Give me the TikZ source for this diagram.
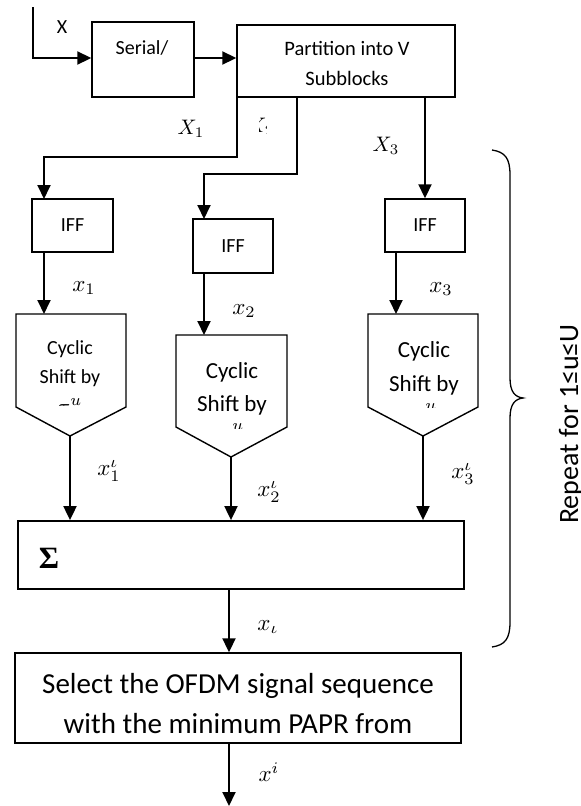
\documentclass[tikz,border=0pt]{standalone}
\usepackage{fontspec}
\setmainfont{Carlito}
\newfontfamily\sigfont{Liberation Serif}
\usetikzlibrary{arrows.meta}
\begin{document}
\begin{tikzpicture}[x=1pt,y=-1pt,
  box/.style={draw,line width=1.4pt,inner sep=0pt},
  conn/.style={line width=1.9pt},
  arr/.style={conn,-{Triangle[length=14pt,width=13pt]}},
  lbl/.style={inner sep=0pt,scale=2.3},
  ulbl/.style={inner sep=0pt,scale=2.1},
  txt/.style={inner sep=0pt,align=center},
]
\useasboundingbox (0,0) rectangle (581,806);
\clip (0,0) rectangle (581,806);

% input and serial box
\node[box,minimum width=102pt,minimum height=75pt] (ser) at (143,59.5) {};
\node[txt,font=\fontsize{20}{20}\selectfont] (sert) at (142,48) {Serial/};
\coordinate (in0) at (33,7);
\coordinate (in1) at (33,58);
\draw[arr] (in0) -- (in1) -- (ser.west |- in1);
\node[txt,font=\fontsize{20}{20}\selectfont] (xin) at (62,27) {X};

% partition box
\node[box,minimum width=218pt,minimum height=72pt] (part) at (346,61) {};
\node[txt,font=\fontsize{20.5}{30}\selectfont] (partt) at (347,63) {Partition into V\\Subblocks};
\draw[arr] (ser.east |- in1) -- (part.west |- in1);

% IFFT boxes
\node[box,minimum width=81pt,minimum height=53pt,font=\fontsize{20}{20}\selectfont] (iff1) at (72.5,225.5) {IFF};
\node[box,minimum width=80pt,minimum height=54pt,font=\fontsize{20}{20}\selectfont] (iff2) at (233,246) {IFF};
\node[box,minimum width=80pt,minimum height=53pt,font=\fontsize{20}{20}\selectfont] (iff3) at (425,225.5) {IFF};

% branches
\coordinate (pb1) at (237,97);
\coordinate (pb2) at (297,97);
\coordinate (pb3) at (425,97);
\coordinate (i1in) at (44,199);
\coordinate (i2in) at (204,219);
\draw[arr] (pb1) |- (44,157) -- (i1in);
\draw[arr] (pb2) |- (204,174) -- (i2in);
\draw[arr] (pb3) -- (iff3.north);

\node[ulbl] (X1) at (191,129) {$X_1$};
\begin{scope}
  \clip (259,115) rectangle (266,133);
  \node[ulbl,anchor=west] (X2) at (247,127) {$X_2$};
\end{scope}
\node[ulbl] (X3) at (386,146) {$X_3$};

% cyclic shift blocks
\draw[line width=1.4pt] (16,314) coordinate (c1top) -- (126,314) -- (126,407) -- (70,436) coordinate (c1tip) -- (16,407) -- cycle;
\draw[line width=1.4pt] (176,335) coordinate (c2top) -- (287,335) -- (287,427) -- (231,457) coordinate (c2tip) -- (176,427) -- cycle;
\draw[line width=1.4pt] (368,314) coordinate (c3top) -- (478,314) -- (478,407) -- (423,436) coordinate (c3tip) -- (368,407) -- cycle;

\node[txt,font=\fontsize{20}{29}\selectfont] (c1t) at (70,364) {Cyclic\\Shift by};
\node[txt,font=\fontsize{23}{33}\selectfont] (c2t) at (232,389) {Cyclic\\Shift by};
\node[txt,font=\fontsize{23}{34}\selectfont] (c3t) at (424,368) {Cyclic\\Shift by};
\begin{scope}
  \clip (40,396) rectangle (100,405);
  \node[lbl,anchor=base] (tau1) at (70,414) {$\tau^{u}$};
\end{scope}
\begin{scope}
  \clip (200,423) rectangle (260,428);
  \node[lbl,anchor=base] (tau2) at (232,439) {$\tau^{u}$};
\end{scope}
\begin{scope}
  \clip (395,403) rectangle (455,407);
  \node[lbl,anchor=base] (tau3) at (425,419) {$\tau^{u}$};
\end{scope}

\coordinate (o1) at (44,252);
\coordinate (o2) at (204,273);
\coordinate (o3) at (396,252);
\draw[arr] (o1) -- (o1 |- c1top);
\draw[arr] (o2) -- (o2 |- c2top);
\draw[arr] (o3) -- (o3 |- c3top);

\node[lbl] (x1) at (84,288) {$x_1$};
\node[lbl] (x2) at (244,311) {$x_2$};
\node[lbl] (x3) at (441,289) {$x_3$};

% sum box
\node[box,line width=1.8pt,minimum width=446pt,minimum height=68pt] (sum) at (241,555) {};
\node[inner sep=0pt,font=\fontsize{31}{31}\sigfont\bfseries] (sig) at (49,558) {Σ};
\draw[arr] (c1tip) -- (c1tip |- sum.north);
\draw[arr] (c2tip) -- (c2tip |- sum.north);
\draw[arr] (c3tip) -- (c3tip |- sum.north);

\node[lbl] (x11) at (109,471) {$x_1^{\iota}$};
\node[lbl] (x21) at (269,492) {$x_2^{\iota}$};
\node[lbl] (x31) at (463,474) {$x_3^{\iota}$};

% select box
\node[box,minimum width=446pt,minimum height=90pt] (sel) at (238,698) {};
\node[txt,font=\fontsize{29}{40}\selectfont] (selt) at (238,704) {Select the OFDM signal sequence\\with the minimum PAPR from};

\coordinate (sumout) at (229,589);
\draw[arr] (sumout) -- (sumout |- sel.north);
\node[lbl] (xu) at (268,627) {$x_{\iota}$};

\coordinate (selout) at (229,743);
\coordinate (outend) at (229,806);
\draw[arr] (selout) -- (outend);
\node[lbl] (xi) at (269,772) {$x^{i}$};

% brace
\draw[line width=1.3pt] (492,150) .. controls (505,152) and (510,158) .. (510,175)
  -- (510,378) .. controls (510,392) and (515,397) .. (523,398) coordinate (btip)
  .. controls (515,399) and (510,404) .. (510,418)
  -- (510,622) .. controls (510,639) and (505,645) .. (492,647);
\node[inner sep=0pt,rotate=90,anchor=base,font=\fontsize{28}{28}\selectfont] (rep) at (578,424) {Repeat for 1≤u≤U};
\end{tikzpicture}
\end{document}
